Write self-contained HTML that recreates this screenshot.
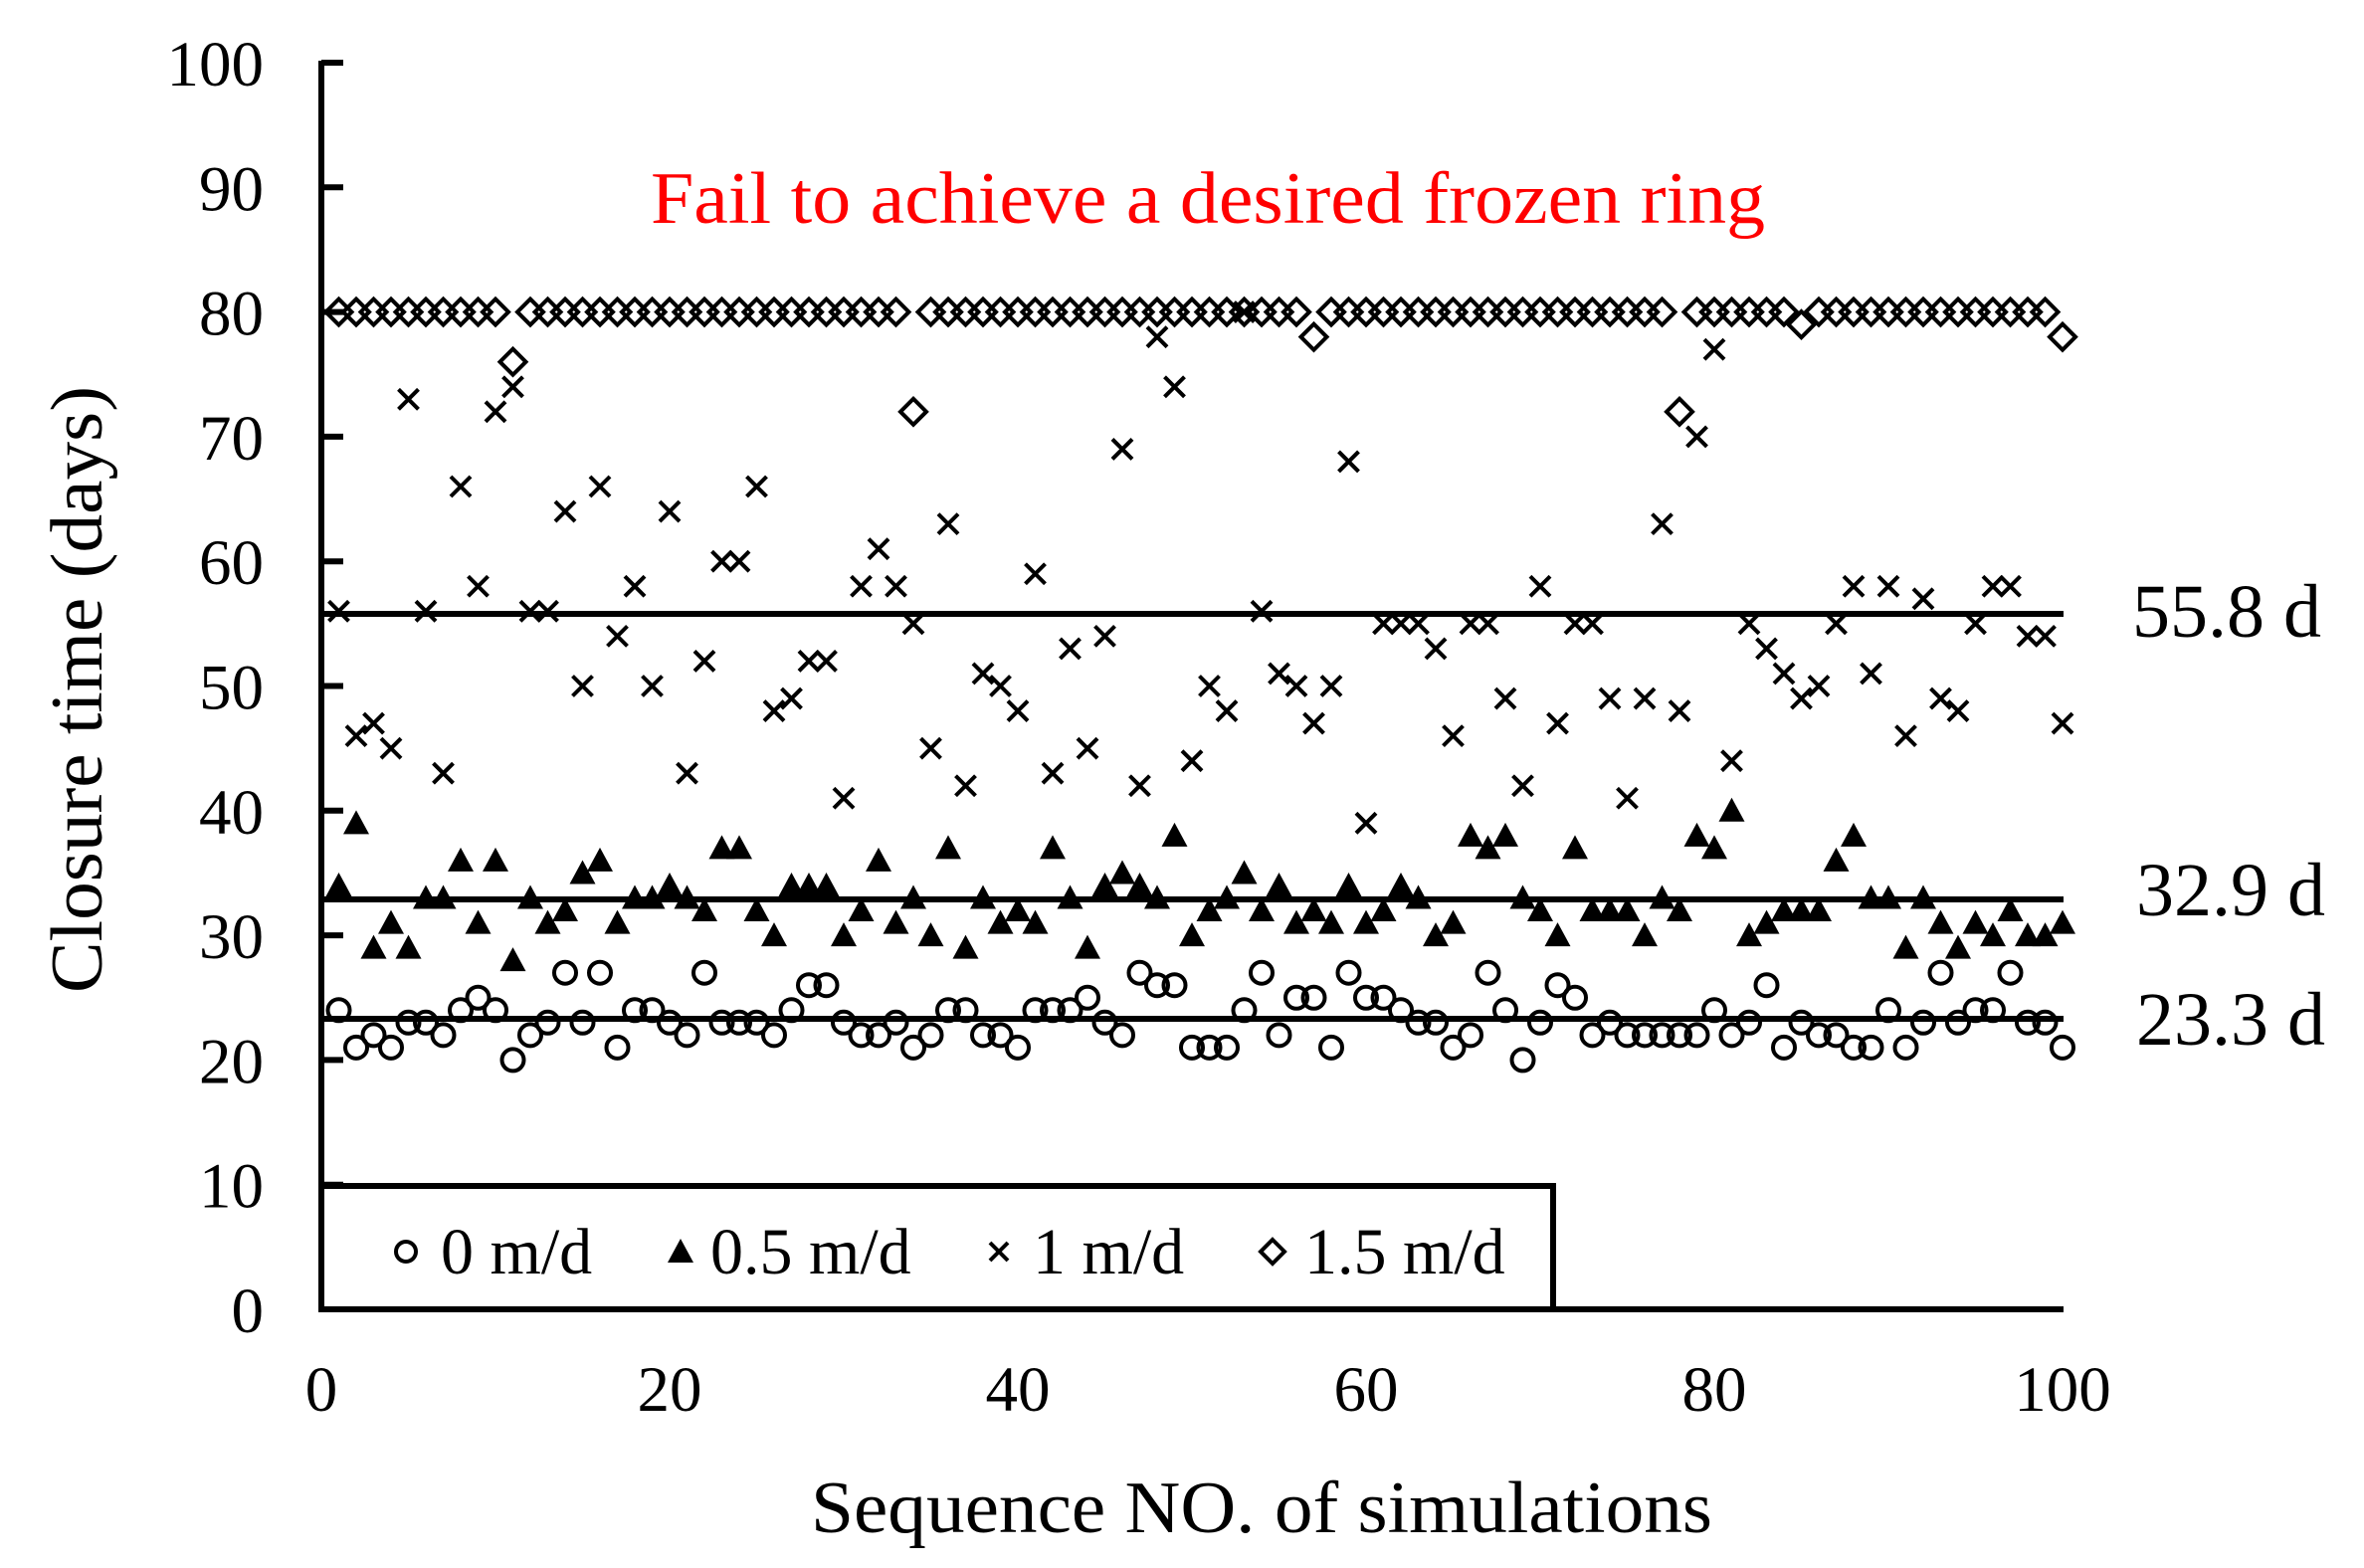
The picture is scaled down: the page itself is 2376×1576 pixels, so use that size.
<!DOCTYPE html>
<html><head><meta charset="utf-8"><style>html,body{margin:0;padding:0;background:#fff}svg{display:block}</style></head>
<body>
<svg id="s" width="2376" height="1576" viewBox="0 0 2376 1576" xmlns="http://www.w3.org/2000/svg" font-family="'Liberation Serif', serif">
<rect width="2376" height="1576" fill="#fff"/>
<g id="ticks" font-size="65" fill="#000" text-anchor="end"></g>
<g id="pts"></g>
<line x1="323" y1="61" x2="323" y2="1319" stroke="#000" stroke-width="6"/>
<line x1="320" y1="1316" x2="2074" y2="1316" stroke="#000" stroke-width="6"/>
<line x1="323" y1="617" x2="2074" y2="617" stroke="#000" stroke-width="6"/>
<line x1="323" y1="904" x2="2074" y2="904" stroke="#000" stroke-width="6"/>
<line x1="323" y1="1024" x2="2074" y2="1024" stroke="#000" stroke-width="6"/>
<text x="2143" y="640" font-size="76">55.8 d</text>
<text x="2147" y="920" font-size="76">32.9 d</text>
<text x="2147" y="1050" font-size="76">23.3 d</text>
<text x="1214" y="224" font-size="74" fill="#ff0000" text-anchor="middle" textLength="1120" lengthAdjust="spacingAndGlyphs">Fail to achieve a desired frozen ring</text>
<text transform="translate(102,693) rotate(-90)" font-size="74" text-anchor="middle" textLength="610" lengthAdjust="spacingAndGlyphs">Closure time (days)</text>
<text x="1268" y="1540" font-size="74" text-anchor="middle" textLength="906" lengthAdjust="spacingAndGlyphs">Sequence NO. of simulations</text>
<rect x="323" y="1192" width="1238" height="124" fill="#fff" stroke="#000" stroke-width="6"/>
<g font-size="66">
<circle cx="408" cy="1258" r="10" fill="none" stroke="#000" stroke-width="4"/>
<text x="443" y="1280">0 m/d</text>
<polygon points="684,1245 697,1269 671,1269" fill="#000"/>
<text x="714" y="1280">0.5 m/d</text>
<path d="M995,1249 L1013,1267 M1013,1249 L995,1267" stroke="#000" stroke-width="4"/>
<text x="1038" y="1280">1 m/d</text>
<polygon points="1279,1246 1291,1258 1279,1270 1267,1258" fill="none" stroke="#000" stroke-width="4"/>
<text x="1311" y="1280">1.5 m/d</text>
</g>
</svg>
<script>
var X=function(i){return 323+i*17.5},Y=function(v){return 1316-v*12.53};
var c=[24,21,22,21,23,23,22,24,25,24,20,22,23,27,23,27,21,24,24,23,22,27,23,23,23,22,24,26,26,23,22,22,23,21,22,24,24,22,22,21,24,24,24,25,23,22,27,26,26,21,21,21,24,27,22,25,25,21,27,25,25,24,23,23,21,22,27,24,20,23,26,25,22,23,22,22,22,22,22,24,22,23,26,21,23,22,22,21,21,24,21,23,27,23,24,24,27,23,23,21];
var t=[34,39,29,31,29,33,33,36,31,36,28,33,31,32,35,36,31,33,33,34,33,32,37,37,32,30,34,34,34,30,32,36,31,33,30,37,29,33,31,32,31,37,33,29,34,35,34,33,38,30,32,33,35,32,34,31,32,31,34,31,32,34,33,30,31,38,37,38,33,32,30,37,32,32,32,30,33,32,38,37,40,30,31,32,32,32,36,38,33,33,29,33,31,29,31,30,32,30,30,31];
var x=[56,46,47,45,73,56,43,66,58,72,74,56,56,64,50,66,54,58,50,64,43,52,60,60,66,48,49,52,52,41,58,61,58,55,45,63,42,51,50,48,59,43,53,45,54,69,42,78,74,44,50,48,80,56,51,50,47,50,68,39,55,55,55,53,46,55,55,49,42,58,47,55,55,49,41,49,63,48,70,77,44,55,53,51,49,50,55,58,51,58,46,57,49,48,55,58,58,54,54,47];
var d={11:76,34:72,57:78,78:72,85:79,100:78};
var h='';
for(var i=1;i<=100;i++){
 var px=X(i);
 var dv=d[i]||80,dy=Y(dv);
 h+='<polygon points="'+px+','+(dy-13)+' '+(px+13)+','+dy+' '+px+','+(dy+13)+' '+(px-13)+','+dy+'" fill="none" stroke="#000" stroke-width="4"/>';
 var xy=Y(x[i-1]);
 h+='<path d="M'+(px-10)+','+(xy-10)+' L'+(px+10)+','+(xy+10)+' M'+(px+10)+','+(xy-10)+' L'+(px-10)+','+(xy+10)+'" stroke="#000" stroke-width="4"/>';
 var ty=Y(t[i-1]);
 h+='<polygon points="'+px+','+(ty-13)+' '+(px+13)+','+(ty+11)+' '+(px-13)+','+(ty+11)+'" fill="#000"/>';
 var cy=Y(c[i-1]);
 h+='<circle cx="'+px+'" cy="'+cy+'" r="11" fill="none" stroke="#000" stroke-width="4"/>';
}
document.getElementById('pts').innerHTML=h;
var g='';
for(var v=0;v<=100;v+=10){var yy=Y(v);g+='<line x1="323" y1="'+yy+'" x2="345" y2="'+yy+'" stroke="#000" stroke-width="6"/><text x="265" y="'+(yy+23)+'">'+v+'</text>';}
for(var k=0;k<=100;k+=20){g+='<text x="'+X(k)+'" y="1418" text-anchor="middle">'+k+'</text>';}
document.getElementById('ticks').innerHTML=g;
</script>
</body></html>
